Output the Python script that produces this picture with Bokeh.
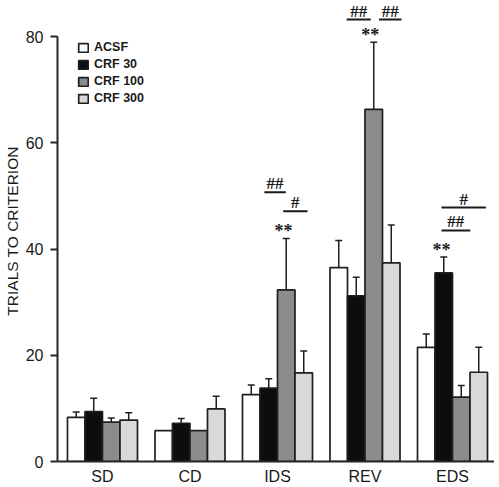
from bokeh.plotting import figure
from bokeh.models import (ColumnDataSource, FixedTicker, Legend, LegendItem, Whisker,
                          TeeHead, LabelSet, Range1d)
from bokeh.embed import file_html
from bokeh.resources import INLINE

# ---- data ----
categories = ["SD", "CD", "IDS", "REV", "EDS"]
series_names = ["ACSF", "CRF 30", "CRF 100", "CRF 300"]

acsf = [8.3, 5.8, 12.6, 36.5, 21.5]
acsf_err = [1.0, 0.0, 1.8, 5.1, 2.5]
crf30 = [9.4, 7.2, 13.8, 31.2, 35.5]
crf30_err = [2.5, 0.9, 1.8, 3.5, 3.0]
crf100 = [7.4, 5.8, 32.3, 66.3, 12.1]
crf100_err = [0.8, 0.0, 9.7, 12.6, 2.2]
crf300 = [7.8, 9.9, 16.7, 37.4, 16.8]
crf300_err = [1.4, 2.4, 4.1, 7.1, 4.7]

y_ticks = [0, 20, 40, 60, 80]

# significance markers (brackets with # labels, and ** labels)
sig_x0 = [1.85, 2.065, 2.79, 3.16, 3.874, 3.874]
sig_x1 = [2.095, 2.343, 3.066, 3.417, 4.381, 4.203]
sig_y = [50.7, 47.1, 83.2, 83.2, 47.8, 43.5]
sig_text = ["##", "#", "##", "##", "#", "##"]
star_x = [2.07, 3.06, 3.874]
star_y = [44.1, 81.0, 40.5]
star_text = ["**", "**", "**"]

# ---- styling ----
FONT = "Liberation Sans"
fills = ["#ffffff", "#0d0d0d", "#8c8c8c", "#d9d9d9"]
edge = "#1f1f1f"
offsets = [-0.3, -0.1, 0.1, 0.3]
bar_w = 0.2

p = figure(frame_width=437, frame_height=461,
           min_border_left=52, min_border_right=0, min_border_top=0, min_border_bottom=26,
           x_range=Range1d(-0.514, 4.48), y_range=Range1d(0, 86.78),
           output_backend="svg", toolbar_location=None)
p.background_fill_color = "white"
p.border_fill_color = "white"
p.outline_line_color = None
p.xgrid.visible = False
p.ygrid.visible = False

values = [acsf, crf30, crf100, crf300]
errors = [acsf_err, crf30_err, crf100_err, crf300_err]
renderers = []
for s, (vals, errs) in enumerate(zip(values, errors)):
    xs = [g + offsets[s] for g in range(len(categories))]
    src = ColumnDataSource(dict(x=xs, top=vals))
    r = p.vbar(x="x", top="top", width=bar_w, bottom=0, source=src,
               fill_color=fills[s], line_color=edge, line_width=1.7)
    renderers.append(r)
    ex = [x for x, e in zip(xs, errs) if e > 0]
    lo = [v for v, e in zip(vals, errs) if e > 0]
    hi = [v + e for v, e in zip(vals, errs) if e > 0]
    wsrc = ColumnDataSource(dict(x=ex, lower=lo, upper=hi))
    w = Whisker(source=wsrc, base="x", lower="lower", upper="upper", dimension="height",
                line_color=edge, line_width=1.5,
                upper_head=TeeHead(size=7, line_color=edge, line_width=1.5), lower_head=None,
                level="glyph")
    p.add_layout(w)

# significance brackets
sig_src = ColumnDataSource(dict(x0=sig_x0, x1=sig_x1, y=sig_y, text=sig_text,
                                xm=[(a + b) / 2 for a, b in zip(sig_x0, sig_x1)]))
p.segment(x0="x0", y0="y", x1="x1", y1="y", source=sig_src, line_color="#1a1a1a", line_width=2)
p.add_layout(LabelSet(x="xm", y="y", text="text", source=sig_src, text_align="center",
                      text_baseline="alphabetic", y_offset=3, text_font=FONT,
                      text_font_size="17px", text_font_style="bold", text_color="#1a1a1a"))
star_src = ColumnDataSource(dict(x=star_x, y=star_y, text=star_text))
p.add_layout(LabelSet(x="x", y="y", text="text", source=star_src, text_align="center",
                      text_baseline="alphabetic", y_offset=-10, text_font=FONT,
                      text_font_size="18px", text_font_style="bold", text_color="#1a1a1a"))

# axes
xa = p.xaxis[0]
xa.ticker = FixedTicker(ticks=list(range(len(categories))))
xa.major_label_overrides = {i: c for i, c in enumerate(categories)}
xa.major_tick_out = 0
xa.major_tick_in = 0
xa.minor_tick_line_color = None
xa.major_label_standoff = 6
xa.major_label_text_font = FONT
xa.major_label_text_font_size = "16px"
xa.major_label_text_color = "#1a1a1a"
xa.axis_line_color = "#262626"
xa.axis_line_width = 2

ya = p.yaxis[0]
ya.ticker = FixedTicker(ticks=y_ticks)
ya.bounds = (0, 80)
ya.major_tick_out = 7
ya.major_tick_in = 0
ya.minor_tick_line_color = None
ya.major_tick_line_color = "#262626"
ya.major_tick_line_width = 2
ya.major_label_standoff = 7
ya.major_label_text_font = FONT
ya.major_label_text_font_size = "16px"
ya.major_label_text_color = "#1a1a1a"
ya.axis_line_color = "#262626"
ya.axis_line_width = 2
ya.axis_label = "TRIALS TO CRITERION"
ya.axis_label_text_font = FONT
ya.axis_label_text_font_size = "15.5px"
ya.axis_label_text_font_style = "normal"
ya.axis_label_text_color = "#1a1a1a"
ya.axis_label_standoff = 2

legend = Legend(items=[LegendItem(label=n, renderers=[r]) for n, r in zip(series_names, renderers)],
                location=(20, 356), orientation="vertical",
                glyph_width=12, glyph_height=11, label_height=11, label_standoff=5,
                spacing=3, padding=0, margin=0,
                label_text_font=FONT, label_text_font_size="12.5px", label_text_font_style="bold",
                label_text_color="#1a1a1a",
                border_line_color=None, background_fill_alpha=0)
p.add_layout(legend)

open("out.html", "w").write(file_html(p, INLINE))
